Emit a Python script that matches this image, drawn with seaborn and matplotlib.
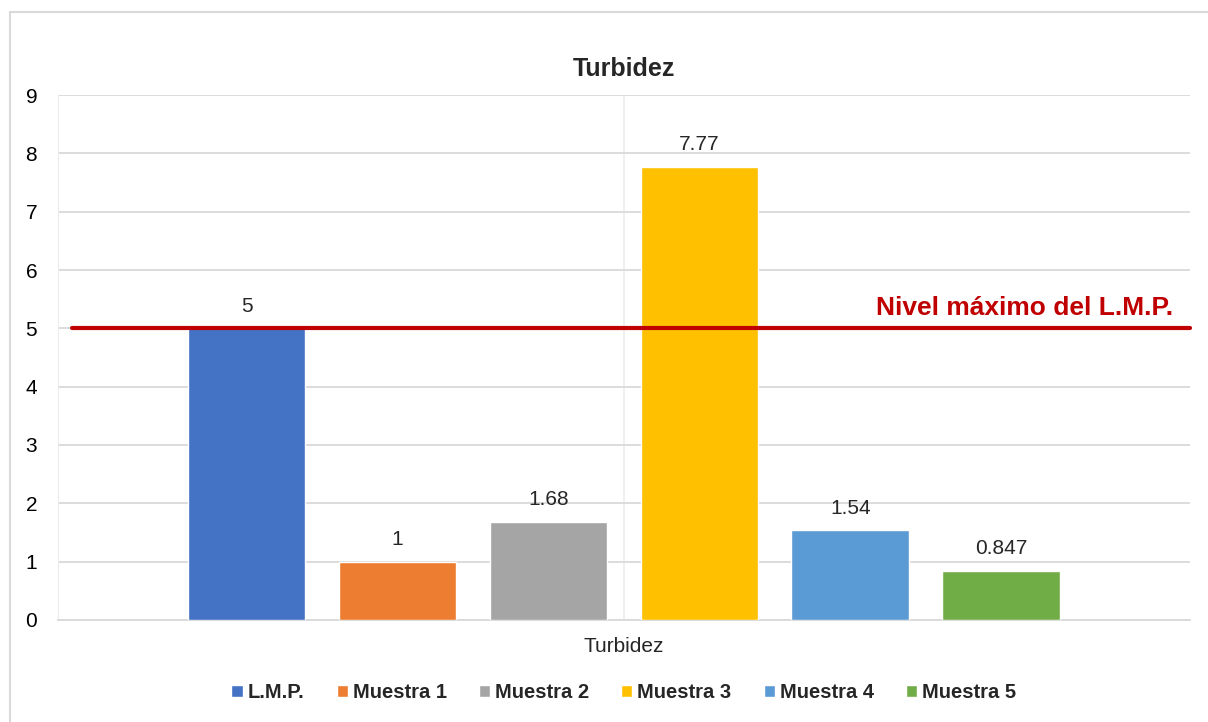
import pandas as pd
import matplotlib
matplotlib.use("Agg")
import matplotlib.pyplot as plt
import matplotlib.patches as mpatches
import seaborn as sns

# --- Data ---
category = ["Turbidez"]
series = ["L.M.P.", "Muestra 1", "Muestra 2", "Muestra 3", "Muestra 4", "Muestra 5"]
values = [5, 1, 1.68, 7.77, 1.54, 0.847]
value_labels = ["5", "1", "1.68", "7.77", "1.54", "0.847"]
colors = ["#4472C4", "#ED7D31", "#A5A5A5", "#FFC000", "#5B9BD5", "#70AD47"]
lmp_level = 5
lmp_text = "Nivel máximo del L.M.P."

df = pd.DataFrame({"param": category * len(series), "serie": series, "valor": values})

sns.set_style("white")
plt.rcParams["font.family"] = ["Liberation Sans", "DejaVu Sans"]

fig = plt.figure(figsize=(12.08, 7.22), dpi=100)
ax = fig.add_axes([0.048, 0.1413, 0.937, 0.7271])

sns.barplot(data=df, x="param", y="valor", hue="serie", palette=colors,
            width=0.8, gap=0.22, dodge=True, ax=ax, legend=True, zorder=3,
            saturation=1)

# data labels
for cont, lab in zip(ax.containers, value_labels):
    ax.bar_label(cont, labels=[lab], padding=9, fontsize=15, color="#262626")

# axes styling
ax.set_ylim(0, 9)
ax.set_xlim(-0.5, 0.5)
ax.set_yticks(range(0, 10))
ax.tick_params(axis="y", labelsize=15, length=0, pad=15, colors="#000000")
ax.tick_params(axis="x", labelsize=15, length=0, pad=12)
ax.set_xlabel("")
ax.set_ylabel("")
ax.grid(axis="y", color="#d9d9d9", linewidth=1.3, zorder=0)
ax.grid(axis="x", color="#ececec", linewidth=1.2, zorder=0)
ax.set_axisbelow(True)
for side in ["top", "right"]:
    ax.spines[side].set_visible(False)
ax.spines["left"].set_color("#ececec")
ax.spines["bottom"].set_color("#d9d9d9")
ax.spines["bottom"].set_linewidth(1.3)
ax.yaxis.grid(True)

ax.set_title("Turbidez", fontsize=18, fontweight="bold", pad=14)

# limit line and text
ax.axhline(lmp_level, xmin=0.012, xmax=1.0, color="#C00000", linewidth=3, zorder=4,
           clip_on=False)
ax.text(0.985, lmp_level + 0.15, lmp_text, transform=ax.get_yaxis_transform(),
        ha="right", va="bottom", fontsize=19, fontweight="bold", color="#C00000")

# legend
handles, labels = ax.get_legend_handles_labels()
ax.legend(handles, labels, loc="center", bbox_to_anchor=(0.5, -0.138), ncol=6,
          frameon=False, prop={"weight": "bold", "size": 14.5}, handlelength=0.55,
          handleheight=0.55, handletextpad=0.25, columnspacing=1.6)

# outer chart border
fig.patches.append(mpatches.Rectangle((10 / 1208, -0.1), 1.2, 1 - 12 / 722 + 0.1,
                                      transform=fig.transFigure, fill=False,
                                      edgecolor="#d9d9d9", linewidth=1.5))

fig.savefig("out.png", dpi=100)
